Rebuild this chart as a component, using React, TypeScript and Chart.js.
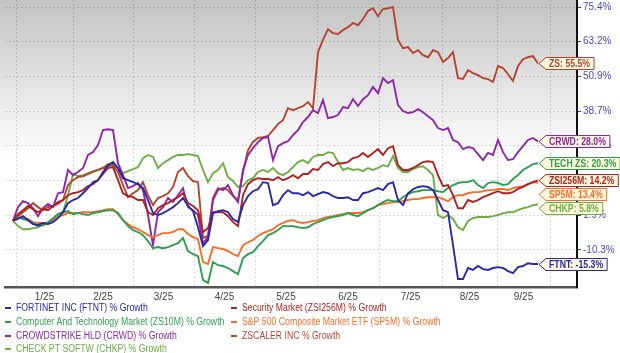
import React, { useEffect, useRef } from 'react';
import { Chart, registerables } from 'chart.js';

Chart.register(...registerables);

const FONT = "'Liberation Sans', Arial, Helvetica, sans-serif";

// trading-day sample index (one sample ≈ 1.7 trading days)
const dayIndex: number[] = Array.from({ length: 106 }, (_, i) => i);

// month boundaries (in the same index units) and month labels
const monthStarts = [0.6, 12, 24, 36.2, 48.4, 60.8, 73.2, 85.8, 96.8, 107.4];
const monthLabels = ['1/25', '2/25', '3/25', '4/25', '5/25', '6/25', '7/25', '8/25', '9/25'];
const yTickValues = [75.4, 63.2, 50.9, 38.7, 26.5, 14.2, 1.9, -10.3];
const X_MIN = -1.6;
const X_MAX = 112.8;
const Y_MIN = -23.4;
const Y_MAX = 77.9;

const ftnt = [
  0, 0.6, 1.6, 0.2, -1.2, -1.6, -0.8, -1.2, -0.5, 0.9,
  3.0, 6.2, 7.3, 8.0, 9.7, 11.5, 13.6, 14.3, 17.2, 19.6,
  20.7, 18.6, 15.0, 14.3, 13.6, 12.9, 11.5, 7.3, 2.7, 2.0,
  2.7, 3.7, 4.8, 6.2, 8.0, 5.2, 3.4, -2.3, -9.0, -6.8,
  2.7, 3.4, 3.7, 3.0, 0.6, -0.5, 5.5, 8.7, 10.4, 11.1,
  13.6, 13.3, 5.5, 6.2, 9.0, 10.8, 9.7, 9.7, 9.0, 10.1,
  8.7, 9.4, 10.1, 9.7, 8.7, 8.0, 8.0, 8.3, 7.3, 7.3,
  9.7, 10.1, 10.8, 11.5, 10.8, 12.9, 13.6, 7.3, 5.5, 9.7,
  11.1, 11.9, 12.2, 11.9, 10.8, 7.3, 3.7, 3.0, -8.6, -20.6,
  -20.6, -16.7, -17.4, -16.0, -17.1, -17.4, -16.7, -16.4, -16.7, -17.8,
  -18.5, -16.4, -16.0, -15.0, -15.3, -15.3,
];

const zsi256m = [
  0, 2.3, 3.7, 5.2, 4.1, 3.0, 4.1, 3.7, 5.2, 6.6,
  7.3, 9.0, 9.7, 10.1, 10.8, 12.2, 12.9, 14.3, 16.5, 18.6,
  18.9, 14.3, 9.7, 8.7, 8.3, 7.3, 7.3, 3.0, 2.0, 4.4,
  5.5, 6.2, 7.3, 8.3, 9.7, 6.2, 5.2, 3.7, -4.0, -2.6,
  3.0, 3.0, 3.0, 1.6, -0.5, -1.9, 9.0, 12.9, 14.3, 15.0,
  14.7, 14.7, 14.3, 15.4, 14.3, 15.0, 16.1, 15.0, 16.5, 16.5,
  18.2, 17.9, 20.0, 20.7, 19.3, 20.3, 20.3, 20.7, 22.1, 22.5,
  23.9, 22.5, 23.9, 25.3, 23.2, 25.6, 26.3, 19.6, 17.9, 17.9,
  18.6, 19.6, 20.7, 21.0, 20.7, 16.1, 12.2, 12.6, 9.0, 4.4,
  4.4, 7.3, 6.6, 7.3, 8.3, 9.0, 9.7, 10.4, 9.7, 9.7,
  10.1, 11.2, 11.9, 12.9, 13.6, 14.2,
];

const zs10m = [
  0, 1.3, 0.6, 0.2, -0.8, -1.9, -1.6, -0.5, 0.9, 2.3,
  3.0, 3.4, 2.3, 2.7, 2.3, 2.0, 2.7, 3.0, 3.4, 3.7,
  3.7, 2.7, 0.2, -1.9, -3.3, -4.0, -5.1, -7.2, -9.7, -9.3,
  -9.7, -9.3, -8.6, -7.9, -6.1, -10.7, -11.8, -12.5, -20.9, -22.0,
  -14.6, -15.7, -16.0, -16.7, -17.8, -18.9, -13.2, -11.8, -11.1, -9.0,
  -7.2, -5.1, -4.4, -3.3, -1.9, -1.9, -1.9, -2.3, -2.6, -2.3,
  -1.2, -0.5, 0.2, 0.9, 1.3, 1.6, 2.0, 2.7, 2.0, 1.6,
  2.7, 3.7, 4.4, 5.5, 6.6, 7.3, 6.9, 6.9, 8.3, 9.4,
  10.1, 10.4, 10.8, 10.8, 10.8, 10.4, 10.1, 11.5, 12.6, 13.3,
  13.6, 13.6, 14.3, 12.6, 11.5, 13.3, 13.6, 13.3, 12.6, 12.9,
  14.7, 16.1, 17.9, 18.9, 20.0, 20.3,
];

const sp5m = [
  0, 1.3, 0.9, 0.6, -0.5, -0.8, -0.8, -0.8, 0.2, 1.3,
  2.0, 2.7, 2.7, 2.7, 3.0, 3.0, 3.0, 3.4, 3.7, 4.1,
  4.1, 2.3, 0.2, -1.2, -2.3, -3.0, -4.0, -5.1, -5.8, -5.1,
  -4.4, -4.4, -4.0, -3.0, -3.0, -4.7, -5.8, -6.5, -14.6, -15.3,
  -9.3, -9.7, -10.0, -10.7, -11.8, -12.5, -8.6, -7.6, -6.8, -5.4,
  -4.4, -3.7, -3.0, -1.6, -0.8, -0.1, 0.2, -0.5, -0.8, -0.5,
  -0.1, 0.2, 0.9, 1.3, 1.6, 2.0, 2.3, 2.7, 2.7, 2.7,
  3.0, 3.7, 4.4, 5.5, 5.9, 6.2, 6.6, 6.6, 6.9, 7.3,
  7.6, 7.6, 8.0, 8.3, 8.3, 8.3, 7.6, 6.9, 8.3, 9.0,
  9.0, 9.7, 10.1, 10.1, 10.4, 10.8, 10.8, 11.2, 11.2, 10.8,
  11.5, 11.9, 12.2, 12.9, 13.6, 13.4,
];

const crwd = [
  0, 4.8, 6.9, 6.2, 4.4, 1.6, 4.4, 5.9, 4.8, 9.7,
  10.1, 17.9, 16.1, 17.2, 18.6, 23.2, 24.2, 26.7, 32.0, 32.3,
  32.0, 20.3, 16.1, 11.5, 12.2, 13.3, 10.8, 2.0, -8.6, 3.0,
  4.8, 8.0, 6.6, 9.0, 11.5, 4.8, 3.7, 2.0, -7.9, -5.8,
  8.0, 11.5, 10.8, 12.6, 9.0, 6.6, 17.9, 23.2, 25.6, 27.7,
  29.2, 29.5, 21.4, 26.3, 27.4, 28.1, 30.2, 32.0, 34.8, 36.6,
  39.0, 38.0, 42.6, 36.2, 36.6, 37.3, 40.1, 39.7, 42.9, 40.5,
  42.9, 44.3, 47.2, 45.0, 50.3, 48.6, 49.6, 40.8, 38.7, 38.0,
  38.3, 39.4, 38.3, 36.9, 35.5, 32.7, 32.0, 32.7, 28.5, 27.7,
  25.3, 26.0, 25.6, 23.5, 21.4, 23.9, 23.2, 28.5, 24.2, 21.4,
  21.7, 24.2, 26.3, 28.5, 29.2, 28.0,
];

const zs = [
  0, 1.6, 3.0, 4.4, 6.2, 4.8, 3.7, 4.8, 5.2, 5.9,
  7.3, 12.6, 14.3, 15.4, 15.7, 16.4, 17.2, 17.9, 18.6, 19.3,
  19.6, 17.2, 12.6, 8.3, 9.7, 10.8, 13.6, 9.0, 5.5, 8.0,
  8.7, 9.7, 11.9, 17.2, 18.6, 15.7, 14.0, 13.6, -6.1, -5.4,
  7.3, 10.8, 11.5, 10.8, 8.7, 7.3, 17.2, 24.9, 27.8, 29.2,
  29.5, 29.9, 32.0, 34.1, 35.5, 39.7, 39.0, 39.7, 40.4, 41.9,
  39.7, 59.5, 63.8, 67.6, 66.2, 65.9, 67.3, 68.3, 69.8, 69.0,
  71.2, 74.0, 75.0, 72.2, 74.7, 75.0, 75.4, 63.8, 60.9, 61.3,
  59.2, 60.2, 58.4, 57.7, 60.2, 59.5, 56.0, 57.4, 59.5, 50.3,
  50.0, 53.2, 52.1, 51.4, 50.3, 50.0, 48.9, 54.6, 53.9, 51.7,
  49.3, 54.6, 57.0, 57.7, 58.1, 55.5,
];

const chkp = [
  0, -1.9, -3.0, -3.0, -2.6, -2.3, -1.6, -0.8, 0.2, 2.3,
  3.0, 9.0, 16.4, 15.7, 16.1, 16.8, 17.5, 17.9, 18.6, 20.0,
  20.0, 18.6, 16.8, 17.5, 18.2, 18.9, 22.1, 23.2, 22.5, 18.6,
  20.3, 21.4, 22.5, 23.2, 23.2, 23.5, 23.2, 22.8, 17.9, 13.6,
  16.8, 17.9, 20.3, 15.4, 14.0, 11.9, 12.2, 14.3, 15.0, 17.2,
  17.9, 17.2, 18.6, 16.8, 16.1, 17.2, 18.9, 20.7, 21.4, 20.3,
  22.5, 23.2, 23.2, 24.2, 23.9, 20.7, 17.9, 18.6, 17.9, 18.2,
  17.5, 18.6, 17.9, 18.6, 19.6, 19.2, 22.8, 18.6, 17.2, 17.2,
  18.2, 18.9, 19.2, 17.9, 16.1, 2.0, 0.9, 2.0, 0.6, -2.3,
  -3.3, -0.1, 0.9, 1.3, 1.3, 1.3, 1.6, 2.0, 2.7, 3.0,
  3.0, 3.7, 4.4, 4.8, 5.5, 5.8,
];

const series = [
  { legend: 'FORTINET INC (FTNT) % Growth', tag: 'FTNT', color: '#2828a8', data: ftnt },
  { legend: 'Security Market (ZSI256M) % Growth', tag: 'ZSI256M', color: '#b02222', data: zsi256m },
  { legend: 'Computer And Technology Market (ZS10M) % Growth', tag: 'TECH ZS', color: '#2f9e4f', data: zs10m },
  { legend: 'S&P 500 Composite Market ETF (SP5M) % Growth', tag: 'SP5M', color: '#fa6b28', data: sp5m },
  { legend: 'CROWDSTRIKE HLD (CRWD) % Growth', tag: 'CRWD', color: '#8e26a8', data: crwd },
  { legend: 'ZSCALER INC % Growth', tag: 'ZS', color: '#b5442e', data: zs },
  { legend: 'CHECK PT SOFTW (CHKP) % Growth', tag: 'CHKP', color: '#6cae44', data: chkp },
];

const LEGEND_X = [5, 231];
const LEGEND_Y = [308, 322, 336, 349];
const TEXT_SCALE = 0.87;
const GRID = 'rgba(0,0,0,0.15)';

// x ticks: boundaries (grid only) interleaved with mid-month label ticks
const xTickValues: number[] = [];
const xTickLabels: string[] = [];
monthStarts.forEach((b, i) => {
  xTickValues.push(b);
  xTickLabels.push('');
  if (i < monthStarts.length - 1) {
    xTickValues.push((b + monthStarts[i + 1]) / 2);
    xTickLabels.push(monthLabels[i]);
  }
});

function scaledText(ctx: CanvasRenderingContext2D, text: string, x: number, y: number) {
  ctx.save();
  ctx.translate(x, y);
  ctx.scale(TEXT_SCALE, 1);
  ctx.fillText(text, 0, 0);
  ctx.restore();
}

const backdrop = {
  id: 'backdrop',
  beforeDraw(chart: any) {
    const { ctx, chartArea: a } = chart;
    ctx.save();
    const g = ctx.createLinearGradient(0, a.top, 0, a.bottom);
    g.addColorStop(0, '#c3c3c3');
    g.addColorStop(0.55, '#ffffff');
    g.addColorStop(1, '#ffffff');
    ctx.fillStyle = g;
    ctx.fillRect(0, a.top, a.right, a.bottom - a.top);
    ctx.restore();
  },
};

const overlay = {
  id: 'overlay',
  afterDraw(chart: any) {
    const { ctx } = chart;
    const xs = chart.scales.x;
    const ys = chart.scales.y;
    const lastX = dayIndex[dayIndex.length - 1];
    const tipX = xs.getPixelForValue(lastX) + 1;
    const tags = series
      .map((s) => {
        const v = s.data[s.data.length - 1];
        return { s, v, y: ys.getPixelForValue(v) };
      })
      .sort((a, b) => a.y - b.y);
    let prev = -Infinity;
    tags.forEach((t) => {
      t.y = Math.max(t.y, prev + 14);
      prev = t.y;
    });
    ctx.save();
    ctx.font = `bold 10px ${FONT}`;
    ctx.textBaseline = 'middle';
    ctx.textAlign = 'left';
    tags.forEach((t) => {
      const text = `${t.s.tag}: ${t.v.toFixed(1)}%`;
      const tw = ctx.measureText(text).width * TEXT_SCALE;
      const h = 12;
      const bx = tipX + 7;
      const w = tw + 7;
      const y = Math.round(t.y) + 0.5;
      ctx.beginPath();
      ctx.moveTo(tipX, y);
      ctx.lineTo(bx, y - h / 2);
      ctx.lineTo(bx + w, y - h / 2);
      ctx.lineTo(bx + w, y + h / 2);
      ctx.lineTo(bx, y + h / 2);
      ctx.closePath();
      ctx.fillStyle = '#fdf8dc';
      ctx.fill();
      ctx.strokeStyle = t.s.color;
      ctx.lineWidth = 1;
      ctx.stroke();
      ctx.fillStyle = t.s.color;
      scaledText(ctx, text, bx + 3, y + 0.5);
    });

    ctx.font = `10px ${FONT}`;
    series.forEach((s, k) => {
      const x = LEGEND_X[k % 2];
      const y = LEGEND_Y[Math.floor(k / 2)];
      ctx.fillStyle = s.color;
      ctx.fillRect(x, y - 1, 6, 2);
      scaledText(ctx, s.legend, x + 11, y);
    });
    ctx.restore();
  },
};

export default function App() {
  const ref = useRef<HTMLCanvasElement>(null);
  useEffect(() => {
    document.body.style.margin = '0';
    const canvas = ref.current;
    if (!canvas) return;
    const chart = new Chart(canvas, {
      type: 'line',
      data: {
        datasets: series.map((s) => ({
          label: s.tag,
          data: dayIndex.map((x, i) => ({ x, y: s.data[i] })),
          borderColor: s.color,
          backgroundColor: s.color,
          borderWidth: 1.9,
          pointRadius: 0,
          fill: false,
          tension: 0,
        })),
      },
      options: {
        animation: false,
        responsive: false,
        maintainAspectRatio: false,
        layout: { padding: { left: 5, right: 0, top: 0, bottom: 0 } },
        plugins: { legend: { display: false }, tooltip: { enabled: false } },
        scales: {
          x: {
            type: 'linear',
            min: X_MIN,
            max: X_MAX,
            afterBuildTicks: (s: any) => {
              s.ticks = xTickValues.map((v) => ({ value: v }));
            },
            afterFit: (s: any) => {
              s.height = 66;
              s.paddingLeft = 0;
              s.paddingRight = 0;
            },
            ticks: {
              autoSkip: false,
              maxRotation: 0,
              minRotation: 0,
              padding: 4,
              color: '#444',
              font: { size: 10, family: FONT },
              callback: (_v: any, i: number) => xTickLabels[i],
            },
            grid: {
              drawTicks: false,
              lineWidth: 1,
              color: (c: any) => (c.index % 2 === 0 ? GRID : 'rgba(0,0,0,0)'),
            },
            border: { display: true, color: '#555', width: 2.5, dash: [2, 2] },
          },
          y: {
            type: 'linear',
            position: 'right',
            min: Y_MIN,
            max: Y_MAX,
            afterBuildTicks: (s: any) => {
              s.ticks = yTickValues.map((v) => ({ value: v }));
            },
            afterFit: (s: any) => {
              s.width = 43;
              s.paddingTop = 0;
              s.paddingBottom = 0;
            },
            ticks: {
              padding: 2,
              color: '#4a4ac4',
              font: { size: 10, family: FONT },
              callback: (v: any) => Number(v).toFixed(1) + '%',
            },
            grid: {
              color: GRID,
              lineWidth: 1,
              tickLength: 4,
              tickColor: '#444',
              tickWidth: 1,
              tickBorderDash: [],
            },
            border: { display: true, color: '#111', width: 2, dash: [2, 2] },
          },
        },
      } as any,
      plugins: [backdrop, overlay],
    });
    return () => chart.destroy();
  }, []);
  return <canvas ref={ref} width={620} height={353} style={{ display: 'block' }} />;
}
